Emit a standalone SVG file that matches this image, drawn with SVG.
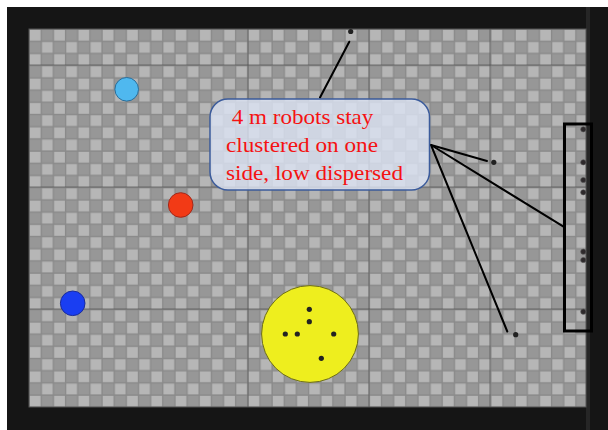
<svg xmlns="http://www.w3.org/2000/svg" width="608" height="430" viewBox="0 0 608 430">
  <style>
    .grid { stroke: #4a4a4a; stroke-width: 1; opacity: 0.6; }
    .robot { fill: #222; }
    .robot-edge { fill: #2e2a2c; stroke: #555; stroke-width: 0.6; }
    .link { stroke: #000; stroke-width: 2; fill: none; stroke-linecap: round; }
    .label { font-family: "Liberation Serif", "Times New Roman", serif; font-size: 21.5px; fill: #f51212; }
  </style>
  <defs>
    <!-- floor tiles: 2x2 checker cell, ~12.15 px per tile -->
    <pattern id="tiles" patternUnits="userSpaceOnUse" x="29" y="29" width="24.3" height="24.4">
      <rect width="24.3" height="24.4" fill="#8a8a8a"/>
      <rect x="0.8" y="0.8" width="10.8" height="10.8" fill="#b6b6b6"/>
      <rect x="12.95" y="0.8" width="10.8" height="10.8" fill="#979797"/>
      <rect x="0.8" y="13" width="10.8" height="10.8" fill="#979797"/>
      <rect x="12.95" y="13" width="10.8" height="10.8" fill="#b6b6b6"/>
    </pattern>
  </defs>

  <!-- page and arena walls -->
  <rect width="608" height="430" fill="#ffffff"/>
  <rect x="7" y="7" width="601" height="423" fill="#151515"/>
  <rect x="586" y="7" width="4" height="423" fill="#262626"/>

  <!-- floor -->
  <g id="floor">
    <rect x="29" y="29" width="557" height="378" fill="url(#tiles)"/>
    <line class="grid" x1="248" y1="29" x2="248" y2="407"/>
    <line class="grid" x1="369" y1="29" x2="369" y2="407"/>
    <line class="grid" x1="490" y1="29" x2="490" y2="407"/>
    <line class="grid" x1="29" y1="65" x2="586" y2="65"/>
    <line class="grid" x1="29" y1="187" x2="586" y2="187"/>
    <line class="grid" x1="29" y1="309" x2="586" y2="309"/>
    <rect x="29" y="29" width="557" height="378" fill="none" stroke="#555" stroke-width="1"/>
  </g>

  <!-- coloured landmarks -->
  <g id="ball-lightblue">
    <circle cx="126.7" cy="89.3" r="11.8" fill="#4fb8ef" stroke="#2b6d99" stroke-width="1"/>
  </g>
  <g id="ball-red">
    <circle cx="180.7" cy="205" r="12.3" fill="#f23a16" stroke="#a3281a" stroke-width="1"/>
  </g>
  <g id="ball-blue">
    <circle cx="72.7" cy="303.3" r="12.3" fill="#1a3ef2" stroke="#1a2c9a" stroke-width="1"/>
  </g>

  <!-- nest area with the robots inside -->
  <g id="nest">
    <circle cx="310" cy="334" r="48.4" fill="#eeee1e" stroke="#6b6b1a" stroke-width="1"/>
    <circle class="robot" cx="309.3" cy="309.3" r="2.6"/>
    <circle class="robot" cx="309.3" cy="321.7" r="2.6"/>
    <circle class="robot" cx="285.3" cy="334" r="2.6"/>
    <circle class="robot" cx="297.3" cy="334" r="2.6"/>
    <circle class="robot" cx="333.7" cy="334" r="2.6"/>
    <circle class="robot" cx="321.3" cy="358.3" r="2.6"/>
  </g>

  <!-- robots out on the floor -->
  <g id="robots-free">
    <circle class="robot" cx="350.7" cy="31.5" r="2.6"/>
    <circle class="robot" cx="493.8" cy="162.3" r="2.6"/>
    <circle class="robot" cx="515.7" cy="334.7" r="2.6"/>
  </g>

  <!-- robots gathered along the right wall -->
  <g id="robots-wall">
    <circle class="robot-edge" cx="583.3" cy="129.3" r="2.6"/>
    <circle class="robot-edge" cx="583.3" cy="162.3" r="2.6"/>
    <circle class="robot-edge" cx="583.3" cy="180" r="2.6"/>
    <circle class="robot-edge" cx="583.3" cy="192.3" r="2.6"/>
    <circle class="robot-edge" cx="583.3" cy="251.7" r="2.6"/>
    <circle class="robot-edge" cx="583.3" cy="260" r="2.6"/>
    <circle class="robot-edge" cx="583.3" cy="311.7" r="2.6"/>
  </g>

  <g id="wall-box">
    <rect x="564.5" y="124" width="27" height="207" fill="none" stroke="#000" stroke-width="3"/>
  </g>

  <!-- pointer lines from the callout -->
  <g id="connectors">
    <line class="link" x1="349.3" y1="41.7" x2="320" y2="97.5"/>
    <line class="link" x1="431" y1="145" x2="487" y2="161"/>
    <line class="link" x1="431" y1="145" x2="563.5" y2="226.7"/>
    <line class="link" x1="431" y1="145" x2="507.3" y2="331.5"/>
  </g>

  <!-- callout -->
  <g id="callout">
    <rect x="210" y="99" width="219.5" height="91" rx="18" ry="18" fill="#dde5f5" fill-opacity="0.8" stroke="#3b5b9b" stroke-width="1.5"/>
    <text class="label" x="231.7" y="124.3" textLength="141.7" lengthAdjust="spacingAndGlyphs">4 m robots stay</text>
    <text class="label" x="226" y="152.3" textLength="152" lengthAdjust="spacingAndGlyphs">clustered on one</text>
    <text class="label" x="226" y="180" textLength="177" lengthAdjust="spacingAndGlyphs">side, low dispersed</text>
  </g>
</svg>
